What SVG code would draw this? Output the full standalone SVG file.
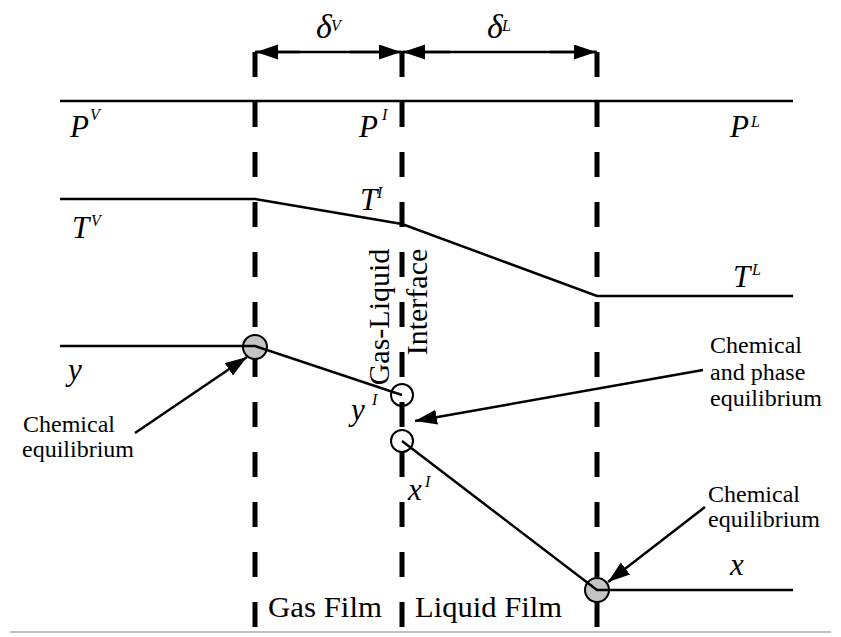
<svg xmlns="http://www.w3.org/2000/svg" width="841" height="637" viewBox="0 0 841 637">
<style>
.ln{stroke:#000;stroke-width:2.5;fill:none}
.dash{stroke:#000;stroke-width:5;stroke-dasharray:25 25;fill:none}
.arr{stroke:#000;stroke-width:2.5;fill:none;marker-end:url(#ah)}
.var{font-family:"Liberation Serif","Times New Roman",serif;font-style:italic;font-size:31px;fill:#000}
.sup{font-family:"Liberation Serif","Times New Roman",serif;font-style:italic;font-size:16px;fill:#000}
.lab{font-family:"Liberation Serif","Times New Roman",serif;font-size:24px;fill:#000}
.big{font-family:"Liberation Serif","Times New Roman",serif;font-size:30px;fill:#000}
.eq{fill:#c4c4c4;stroke:#000;stroke-width:2}
.open{fill:none;stroke:#000;stroke-width:2}
</style>
<defs>
<marker id="ah" markerUnits="userSpaceOnUse" markerWidth="24" markerHeight="16" refX="22" refY="7.5" orient="auto">
<path d="M0,0 L22,7.5 L0,15 Z" fill="#000"/>
</marker>
</defs>
<g id="film-boundaries">
<line class="dash" x1="255" y1="52" x2="255" y2="630"/>
<line class="dash" x1="402" y1="52" x2="402" y2="630"/>
<line class="dash" x1="597" y1="52" x2="597" y2="630"/>
</g>
<g id="equilibrium-points">
<circle class="eq" cx="255" cy="347" r="12"/>
<circle class="open" cx="402" cy="395" r="11"/>
<circle class="open" cx="402" cy="441" r="11"/>
<circle class="eq" cx="597" cy="590" r="12"/>
</g>
<g id="connectors">
<line class="arr" x1="300" y1="52" x2="256" y2="52"/>
<line class="arr" x1="350" y1="52" x2="401" y2="52"/>
<line class="arr" x1="450" y1="52" x2="403" y2="52"/>
<line class="arr" x1="550" y1="52" x2="596" y2="52"/>
<line class="ln" x1="255" y1="52" x2="402" y2="52"/>
<line class="ln" x1="402" y1="52" x2="597" y2="52"/>
<line class="ln" x1="60" y1="101" x2="793" y2="101"/>
<polyline class="ln" points="60,199 255,199 402,224 597,296 793,296"/>
<polyline class="ln" points="60,346 255,346 402,395"/>
<polyline class="ln" points="402,441 597,590 793,590"/>
<line class="arr" x1="135" y1="433" x2="247" y2="357"/>
<line class="arr" x1="703" y1="370" x2="415" y2="421"/>
<line class="arr" x1="705" y1="507" x2="608" y2="582"/>
<line x1="10" y1="632" x2="831" y2="632" stroke="#c0c0c0" stroke-width="2"/>
</g>
<g id="delta-V"><text class="var" x="316" y="38" style="font-size:34px">δ</text><text class="sup" x="331" y="31">V</text></g>
<g id="delta-L"><text class="var" x="487" y="38" style="font-size:34px">δ</text><text class="sup" x="502" y="31">L</text></g>
<g id="P-V"><text class="var" x="70" y="137">P</text><text class="sup" x="90" y="120">V</text></g>
<g id="P-I"><text class="var" x="359" y="137">P</text><text class="sup" x="382" y="120">I</text></g>
<g id="P-L"><text class="var" x="730" y="137">P</text><text class="sup" x="751" y="127">L</text></g>
<g id="T-V"><text class="var" x="72" y="238">T</text><text class="sup" x="91" y="226">V</text></g>
<g id="T-I"><text class="var" x="360" y="210">T</text><text class="sup" x="377" y="198">I</text></g>
<g id="T-L"><text class="var" x="733" y="287">T</text><text class="sup" x="752" y="275">L</text></g>
<g id="y"><text class="var" x="68" y="380">y</text></g>
<g id="y-I"><text class="var" x="351" y="420">y</text><text class="sup" x="372" y="405">I</text></g>
<g id="x-I"><text class="var" x="408" y="500">x</text><text class="sup" x="425" y="487">I</text></g>
<g id="x"><text class="var" x="730" y="575">x</text></g>
<g id="interface-label">
<text class="big" transform="translate(389,317) rotate(-90)" text-anchor="middle">Gas-Liquid</text>
<text class="big" transform="translate(427,302) rotate(-90)" text-anchor="middle">Interface</text>
</g>
<g id="left-equilibrium"><text class="lab" x="23" y="432">Chemical</text><text class="lab" x="22" y="457">equilibrium</text></g>
<g id="middle-equilibrium"><text class="lab" x="710" y="353">Chemical</text><text class="lab" x="710" y="380">and phase</text><text class="lab" x="710" y="406">equilibrium</text></g>
<g id="right-equilibrium"><text class="lab" x="708" y="502">Chemical</text><text class="lab" x="708" y="527">equilibrium</text></g>
<g id="gas-film"><text class="big" x="268" y="617" textLength="114" lengthAdjust="spacingAndGlyphs" style="font-size:29px">Gas Film</text></g>
<g id="liquid-film"><text class="big" x="415" y="617" textLength="147" lengthAdjust="spacingAndGlyphs" style="font-size:29px">Liquid Film</text></g>
</svg>
